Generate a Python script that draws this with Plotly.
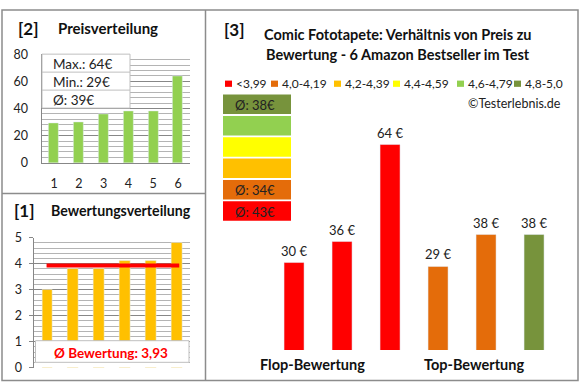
import plotly.graph_objects as go

# ---------------- data ----------------
price_ranks = [1, 2, 3, 4, 5, 6]
prices_sorted = [29, 30, 36, 38, 38, 64]
rating_ranks = [1, 2, 3, 4, 5, 6]
ratings_sorted = [3.0, 3.8, 3.8, 4.1, 4.1, 4.8]
avg_rating_text = "3,93"

main_prices = [30, 36, 64, 29, 38, 38]
main_ratings = [3.0, 3.8, 3.8, 4.1, 4.1, 4.8]
main_labels = ["30 €", "36 €", "64 €", "29 €", "38 €", "38 €"]

band_labels = ["<3,99", "4,0-4,19", "4,2-4,39", "4,4-4,59", "4,6-4,79", "4,8-5,0"]
band_avgs = ["Ø: 43€", "Ø: 34€", "", "", "", "Ø: 38€"]
info_lines = ["Max.: 64€", "Min.: 29€", "Ø: 39€"]

# ---------------- styles ----------------
BAND_COLORS = ["#FF0000", "#E46C0A", "#FFC000", "#FFFF00", "#92D050", "#77933C"]
W, H = 580, 390
FONT = "Lato"
GRID_MAJ = "#878787"
GRID_MIN = "#B4B4B4"
BORDER = "#8C8C8C"


def band_of(r):
    edges = [3.995, 4.195, 4.395, 4.595, 4.795]
    for i, e in enumerate(edges):
        if r < e:
            return i
    return 5


def px(x):
    return x / W


def py(y):
    return 1 - y / H


fig = go.Figure()

fig.add_trace(go.Bar(x=price_ranks, y=prices_sorted, marker_color="#92D050",
                     width=0.4, xaxis="x", yaxis="y", showlegend=False))
fig.add_trace(go.Bar(x=rating_ranks, y=ratings_sorted, marker_color="#FFC000",
                     width=0.42, xaxis="x2", yaxis="y2", showlegend=False))
avg_rating = sum(ratings_sorted) / len(ratings_sorted)
fig.add_trace(go.Scatter(x=[rating_ranks[0] - 0.03, rating_ranks[-1] + 0.1],
                         y=[avg_rating, avg_rating], mode="lines",
                         line=dict(color="#FF0000", width=4),
                         xaxis="x2", yaxis="y2", showlegend=False))
main_x = list(range(len(main_prices)))
fig.add_trace(go.Bar(x=main_x, y=main_prices,
                     marker_color=[BAND_COLORS[band_of(r)] for r in main_ratings],
                     width=0.4, xaxis="x3", yaxis="y3", showlegend=False))

tickfont = dict(family=FONT, size=12.5, color="#222222")

fig.update_layout(
    width=W, height=H, margin=dict(l=0, r=0, t=0, b=0),
    paper_bgcolor="white", plot_bgcolor="white", bargap=0,
    font=dict(family=FONT),
    xaxis=dict(domain=[px(41.6), px(190.4)], range=[0.5, 6.5], tickvals=price_ranks,
               showgrid=False, showline=True, linecolor=GRID_MAJ, linewidth=1,
               tickfont=tickfont, ticks="", ticklabelstandoff=9, fixedrange=True),
    yaxis=dict(domain=[py(161), py(48)], range=[0, 80], dtick=20,
               showgrid=True, gridcolor=GRID_MAJ, gridwidth=1,
               minor=dict(dtick=4, showgrid=True, gridcolor=GRID_MIN, gridwidth=1),
               showline=True, linecolor=GRID_MAJ, zeroline=False,
               tickfont=tickfont, ticklabelstandoff=10, anchor="x"),
    xaxis2=dict(domain=[px(34.4), px(189.6)], range=[0.5, 6.5], showticklabels=False,
                showgrid=False, showline=False, anchor="y2"),
    yaxis2=dict(domain=[py(374), py(239)], range=[0, 5], dtick=1,
                showgrid=True, gridcolor=GRID_MAJ, gridwidth=1,
                minor=dict(dtick=0.2, showgrid=True, gridcolor=GRID_MIN, gridwidth=1),
                showline=True, linecolor=GRID_MAJ, zeroline=False,
                ticks="outside", ticklen=4, tickcolor=GRID_MAJ,
                tickfont=tickfont, ticklabelstandoff=5, anchor="x2"),
    xaxis3=dict(domain=[px(270.3), px(558.3)], range=[-0.5, 5.5], visible=False,
                anchor="y3"),
    yaxis3=dict(domain=[py(355.7), py(120.4)], range=[5, 70], visible=False,
                anchor="x3"),
)

shapes = []
ann = []

shapes.append(dict(type="rect", xref="paper", yref="paper", x0=px(2), x1=px(578),
                   y0=py(387.5), y1=py(2), line=dict(color=BORDER, width=1.5)))
shapes.append(dict(type="line", xref="paper", yref="paper", x0=px(205.5), x1=px(205.5),
                   y0=py(387.5), y1=py(2), line=dict(color=BORDER, width=1.5)))
shapes.append(dict(type="line", xref="paper", yref="paper", x0=px(2), x1=px(205.5),
                   y0=py(193), y1=py(193), line=dict(color=BORDER, width=1.5)))

box_top, row_h = 48, 18.7
shapes.append(dict(type="rect", xref="paper", yref="paper", x0=px(42), x1=px(130),
                   y0=py(box_top + 3 * row_h), y1=py(box_top), fillcolor="white",
                   line=dict(color="#BFBFBF", width=1), layer="above"))
for i, t in enumerate(info_lines):
    if i > 0:
        shapes.append(dict(type="line", xref="paper", yref="paper", x0=px(42), x1=px(130),
                           y0=py(box_top + i * row_h), y1=py(box_top + i * row_h),
                           line=dict(color="#BFBFBF", width=1), layer="above"))
    ann.append(dict(text=t, xref="paper", yref="paper", x=px(51), y=py(box_top + (i + 0.55) * row_h),
                    xanchor="left", yanchor="middle", showarrow=False,
                    font=dict(family=FONT, size=13.5, color="#222222")))

# cover bar bottoms below the rating box, then the box itself
shapes.append(dict(type="rect", xref="paper", yref="paper", x0=px(35.5), x1=px(189),
                   y0=py(373.4), y1=py(368), fillcolor="white",
                   line=dict(width=0), layer="above"))
shapes.append(dict(type="rect", xref="paper", yref="paper", x0=px(35.5), x1=px(189),
                   y0=py(368.5), y1=py(346), fillcolor="white",
                   line=dict(color="#BFBFBF", width=1), layer="above"))
ann.append(dict(text="<b>Ø Bewertung: " + avg_rating_text + "</b>", xref="paper", yref="paper",
                x=px(111), y=py(359), xanchor="center", yanchor="middle", showarrow=False,
                font=dict(family=FONT, size=13.5, color="#FF0000")))

ann.append(dict(text="<b>[2]</b>", xref="paper", yref="paper", x=px(16), y=py(21),
                xanchor="left", yanchor="middle", showarrow=False,
                font=dict(family=FONT, size=17, color="#111111")))
ann.append(dict(text="<b>Preisverteilung</b>", xref="paper", yref="paper", x=px(108), y=py(21),
                xanchor="center", yanchor="middle", showarrow=False,
                font=dict(family=FONT, size=15, color="#111111")))
ann.append(dict(text="<b>[1]</b>", xref="paper", yref="paper", x=px(12), y=py(211),
                xanchor="left", yanchor="middle", showarrow=False,
                font=dict(family=FONT, size=17, color="#111111")))
ann.append(dict(text="<b>Bewertungsverteilung</b>", xref="paper", yref="paper", x=px(121), y=py(211),
                xanchor="center", yanchor="middle", showarrow=False,
                font=dict(family=FONT, size=14.2, color="#111111")))
ann.append(dict(text="<b>[3]</b>", xref="paper", yref="paper", x=px(222), y=py(22),
                xanchor="left", yanchor="middle", showarrow=False,
                font=dict(family=FONT, size=17, color="#111111")))
ann.append(dict(text="<b>Comic Fototapete: Verhältnis von Preis zu</b>", xref="paper", yref="paper",
                x=px(398), y=py(28), xanchor="center", yanchor="middle", showarrow=False,
                font=dict(family=FONT, size=14.5, color="#111111")))
ann.append(dict(text="<b>Bewertung - 6 Amazon Bestseller im Test</b>", xref="paper", yref="paper",
                x=px(398), y=py(48), xanchor="center", yanchor="middle", showarrow=False,
                font=dict(family=FONT, size=14.5, color="#111111")))

leg_x = [225, 271, 334, 393, 457, 514]
for xi, lab, col in zip(leg_x, band_labels, BAND_COLORS):
    shapes.append(dict(type="rect", xref="paper", yref="paper", x0=px(xi), x1=px(xi + 7),
                       y0=py(82), y1=py(75.5), fillcolor=col, line=dict(width=0)))
    ann.append(dict(text=lab, xref="paper", yref="paper", x=px(xi + 9), y=py(79),
                    xanchor="left", yanchor="middle", showarrow=False,
                    font=dict(family=FONT, size=12, color="#222222")))
ann.append(dict(text="©Testerlebnis.de", xref="paper", yref="paper", x=px(563), y=py(99),
                xanchor="right", yanchor="middle", showarrow=False,
                font=dict(family=FONT, size=12.5, color="#222222")))

stack_top, stack_step, stack_h = 90, 22.2, 20.3
for k, bi in enumerate(range(5, -1, -1)):
    y0 = stack_top + k * stack_step
    shapes.append(dict(type="rect", xref="paper", yref="paper", x0=px(223), x1=px(291),
                       y0=py(y0 + stack_h), y1=py(y0), fillcolor=BAND_COLORS[bi],
                       line=dict(width=0)))
    if band_avgs[bi]:
        ann.append(dict(text=band_avgs[bi], xref="paper", yref="paper", x=px(233),
                        y=py(y0 + stack_h / 2 + 0.5), xanchor="left", yanchor="middle",
                        showarrow=False, font=dict(family=FONT, size=13, color="#222222")))

for xi, v, lab in zip(main_x, main_prices, main_labels):
    ann.append(dict(text=lab, xref="x3", yref="y3", x=xi, y=v, yshift=12,
                    xanchor="center", yanchor="middle", showarrow=False,
                    font=dict(family=FONT, size=13, color="#222222")))

ann.append(dict(text="<b>Flop-Bewertung</b>", xref="paper", yref="paper", x=px(312), y=py(371),
                xanchor="center", yanchor="middle", showarrow=False,
                font=dict(family=FONT, size=14.5, color="#111111")))
ann.append(dict(text="<b>Top-Bewertung</b>", xref="paper", yref="paper", x=px(474), y=py(371),
                xanchor="center", yanchor="middle", showarrow=False,
                font=dict(family=FONT, size=14.5, color="#111111")))

fig.update_layout(shapes=shapes, annotations=ann)
fig.write_html("out.html", config={"displayModeBar": False},
               post_script="document.body.style.margin='0';document.body.style.overflow='hidden';")
